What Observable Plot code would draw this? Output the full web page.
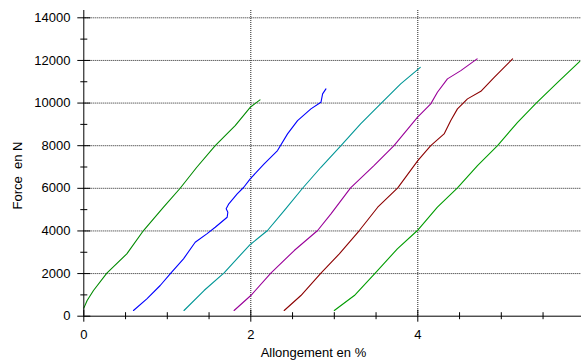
<!DOCTYPE html>
<html>
<head>
<meta charset="utf-8">
<script src="https://cdn.jsdelivr.net/npm/d3@7"></script>
<script src="https://cdn.jsdelivr.net/npm/@observablehq/plot@0.6"></script>
<style>
  html, body { margin: 0; padding: 0; background: white; }
  #chart svg { overflow: hidden; }
</style>
</head>
<body>
<div id="chart"></div>
<script>
// Tick values and labels
const yMajorTicks = [0, 2000, 4000, 6000, 8000, 10000, 12000, 14000];
const yMinorTicks = [1000, 3000, 5000, 7000, 9000, 11000, 13000];
const yGrid = [2000, 4000, 6000, 8000, 10000, 12000, 14000];
const xMajorTicks = [0, 2, 4, 6];
const xMinorTicks = [0.5, 1, 1.5, 2.5, 3, 3.5, 4.5, 5, 5.5];
const xGrid = [2, 4, 6];
const xTitle = "Allongement en %";
const yTitle = "Force  en N";

// Series (Allongement %, Force N)
const seriesNames = ["E1", "E2", "E3", "E4", "E5", "E6"];
const seriesColors = ["#008a00", "#0000ff", "#009696", "#990099", "#8c0000", "#009c00"];

const e1X = [0, 0.04, 0.116, 0.276, 0.515, 0.715, 0.955, 1.154, 1.353, 1.574, 1.813, 1.993, 2.11];
const e1Y = [380, 736, 1205, 2017, 2925, 4020, 5113, 6003, 6988, 8006, 8944, 9802, 10150];

const e2X = [0.595, 0.755, 0.915, 1.042, 1.194, 1.334, 1.473, 1.574, 1.717, 1.725, 1.705, 1.737, 1.837, 1.916, 1.993, 2.16, 2.32, 2.44, 2.56, 2.72, 2.84, 2.86, 2.90];
const e2Y = [267, 816, 1440, 2017, 2690, 3470, 3864, 4174, 4643, 4878, 5037, 5271, 5740, 6050, 6444, 7148, 7771, 8554, 9178, 9727, 10037, 10430, 10665];

const e3X = [1.20, 1.44, 1.68, 1.98, 2.20, 2.40, 2.62, 2.84, 3.08, 3.315, 3.56, 3.795, 4.03];
const e3Y = [267, 1205, 2035, 3316, 4020, 4957, 6003, 6988, 8006, 9023, 9990, 10900, 11678];

const e4X = [1.80, 2.0, 2.24, 2.52, 2.80, 2.96, 3.195, 3.475, 3.715, 3.995, 4.155, 4.235, 4.355, 4.515, 4.71];
const e4Y = [267, 970, 2017, 3081, 4020, 4802, 6022, 7068, 8006, 9333, 9962, 10506, 11134, 11523, 12072];

const e5X = [2.40, 2.60, 2.84, 3.06, 3.30, 3.52, 3.76, 4.0, 4.155, 4.315, 4.395, 4.475, 4.595, 4.755, 4.915, 5.135];
const e5Y = [267, 970, 2017, 2925, 4020, 5113, 6022, 7302, 8006, 8554, 9178, 9727, 10196, 10553, 11210, 12072];

const e6X = [3.0, 3.24, 3.49, 3.755, 3.995, 4.235, 4.475, 4.715, 4.955, 5.195, 5.415, 5.675, 5.94];
const e6Y = [267, 970, 2017, 3161, 4020, 5113, 6022, 7068, 8006, 9099, 9990, 10975, 11960];

const allX = [e1X, e2X, e3X, e4X, e5X, e6X];
const allY = [e1Y, e2Y, e3Y, e4Y, e5Y, e6Y];

const data = [];
allX.forEach((xs, i) => xs.forEach((x, j) => data.push({series: seriesNames[i], x, y: allY[i][j]})));

const font = "Arial, 'Liberation Sans', sans-serif";

const chart = Plot.plot({
  width: 581,
  height: 364,
  marginLeft: 83.3,
  marginRight: -3.3,
  marginTop: 10,
  marginBottom: 48.3,
  style: {fontFamily: font, fontSize: "13px", color: "black", background: "white"},
  x: {domain: [0, 6], axis: null},
  y: {domain: [0, 14343], axis: null},
  color: {domain: seriesNames, range: seriesColors},
  marks: [
    Plot.gridY(yGrid, {stroke: "#222", strokeOpacity: 1, strokeDasharray: "1,1", strokeWidth: 1}),
    Plot.gridX(xGrid, {stroke: "#222", strokeOpacity: 1, strokeDasharray: "1,1", strokeWidth: 1}),
    Plot.line(data, {x: "x", y: "y", z: "series", stroke: "series", strokeWidth: 1.1}),
    Plot.ruleX([0], {stroke: "black"}),
    Plot.ruleY([0], {stroke: "black"}),
    Plot.axisY(yMajorTicks, {anchor: "left", label: null, tickSize: 13, dx: 7, tickPadding: 7.3, tickFormat: d => String(d), fontSize: 13}),
    Plot.axisY(yMinorTicks, {anchor: "left", label: null, tickSize: 7, dx: 4, fill: "none"}),
    Plot.axisX(xMajorTicks, {anchor: "bottom", label: null, tickSize: 12, dy: -6, tickPadding: 8, tickFormat: d => String(d), fontSize: 13}),
    Plot.axisX(xMinorTicks, {anchor: "bottom", label: null, tickSize: 7, dy: -3.5, fill: "none"}),
    Plot.text([xTitle], {x: [2.75], frameAnchor: "bottom", textAnchor: "middle", lineAnchor: "bottom", dy: 41, fontSize: 13, fill: "black"}),
    Plot.text([yTitle], {y: [6600], frameAnchor: "left", textAnchor: "middle", rotate: -90, dx: -66, fontSize: 13, fill: "black"})
  ]
});

document.getElementById("chart").appendChild(chart);
</script>
</body>
</html>
